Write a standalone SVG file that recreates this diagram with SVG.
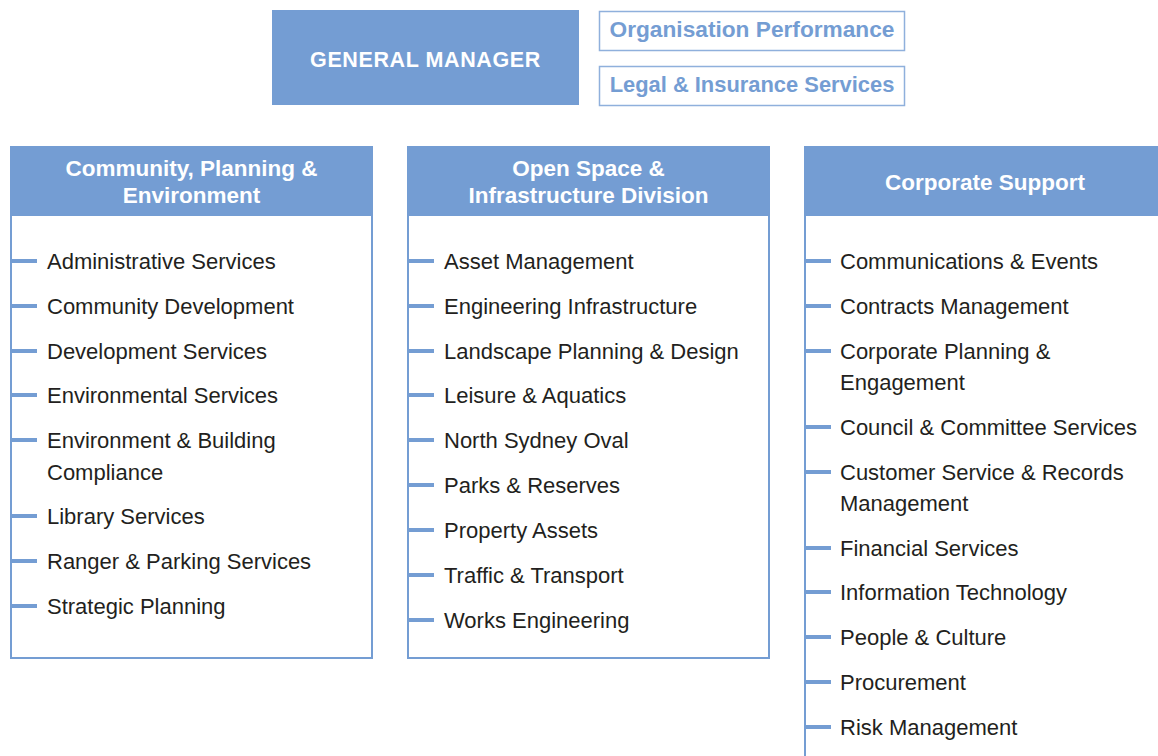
<svg xmlns="http://www.w3.org/2000/svg" width="1158" height="756" viewBox="0 0 1158 756">
<style>
.hd{fill:#749dd3}
.frame{fill:#fff;stroke:#749dd3;stroke-width:2}
.ht{font-family:"Liberation Sans",Arial,sans-serif;font-weight:bold;fill:#fff;font-size:22.5px;text-anchor:middle}
.it{font-family:"Liberation Sans",Arial,sans-serif;fill:#231f20;font-size:22px}
.bt{font-family:"Liberation Sans",Arial,sans-serif;font-weight:bold;fill:#749dd3;font-size:22.7px}
.tick{stroke:#749dd3;stroke-width:4}
</style>
<rect width="1158" height="756" fill="#fff"/>
<g id="gm">
<rect x="272" y="10" width="307" height="95" class="hd"/>
<text x="425.5" y="67" class="ht" style="font-size:21.5px" letter-spacing="0.6">GENERAL MANAGER</text>
</g>
<g id="org-performance">
<rect x="599.5" y="11.5" width="305" height="39" fill="#fff" stroke="#8fb0dc" stroke-width="1.5"/>
<text x="752" y="37" class="bt" text-anchor="middle">Organisation Performance</text>
</g>
<g id="legal">
<rect x="599.5" y="66.5" width="305" height="39" fill="#fff" stroke="#8fb0dc" stroke-width="1.5"/>
<text x="752" y="92" class="bt" text-anchor="middle" style="font-size:21.9px">Legal &amp; Insurance Services</text>
</g>
<g id="cpe">
<rect x="11" y="147" width="361" height="511" class="frame"/>
<rect x="10" y="146" width="363" height="70" class="hd"/>
<text x="191.5" y="176" class="ht">Community, Planning &amp;</text>
<text x="191.5" y="203" class="ht">Environment</text>
<g class="items">
<text x="47" y="269" class="it">Administrative Services</text>
<text x="47" y="314" class="it">Community Development</text>
<text x="47" y="359" class="it">Development Services</text>
<text x="47" y="403" class="it">Environmental Services</text>
<text x="47" y="448" class="it">Environment &amp; Building</text>
<text x="47" y="480" class="it">Compliance</text>
<text x="47" y="524" class="it">Library Services</text>
<text x="47" y="569" class="it">Ranger &amp; Parking Services</text>
<text x="47" y="614" class="it">Strategic Planning</text>
</g>
</g>
<g id="osi">
<rect x="408" y="147" width="361" height="511" class="frame"/>
<rect x="407" y="146" width="363" height="70" class="hd"/>
<text x="588.5" y="176" class="ht">Open Space &amp;</text>
<text x="588.5" y="203" class="ht">Infrastructure Division</text>
<g class="items">
<text x="444" y="269" class="it">Asset Management</text>
<text x="444" y="314" class="it">Engineering Infrastructure</text>
<text x="444" y="359" class="it">Landscape Planning &amp; Design</text>
<text x="444" y="403" class="it">Leisure &amp; Aquatics</text>
<text x="444" y="448" class="it">North Sydney Oval</text>
<text x="444" y="493" class="it">Parks &amp; Reserves</text>
<text x="444" y="538" class="it">Property Assets</text>
<text x="444" y="583" class="it">Traffic &amp; Transport</text>
<text x="444" y="628" class="it">Works Engineering</text>
</g>
</g>
<g id="cs">
<rect x="805" y="147" width="360" height="620" class="frame"/>
<rect x="804" y="146" width="360" height="70" class="hd"/>
<text x="985" y="190" class="ht">Corporate Support</text>
<g class="items">
<text x="840" y="269" class="it">Communications &amp; Events</text>
<text x="840" y="314" class="it">Contracts Management</text>
<text x="840" y="359" class="it">Corporate Planning &amp;</text>
<text x="840" y="390" class="it">Engagement</text>
<text x="840" y="435" class="it">Council &amp; Committee Services</text>
<text x="840" y="480" class="it">Customer Service &amp; Records</text>
<text x="840" y="511" class="it">Management</text>
<text x="840" y="556" class="it">Financial Services</text>
<text x="840" y="600" class="it">Information Technology</text>
<text x="840" y="645" class="it">People &amp; Culture</text>
<text x="840" y="690" class="it">Procurement</text>
<text x="840" y="735" class="it">Risk Management</text>
</g>
</g>
<g id="connectors" class="tick">
<path d="M11 261H37M11 306H37M11 351H37M11 395H37M11 440H37M11 516H37M11 561H37M11 606H37"/>
<path d="M408 261H434M408 306H434M408 351H434M408 395H434M408 440H434M408 485H434M408 530H434M408 575H434M408 620H434"/>
<path d="M805 261H831M805 306H831M805 351H831M805 427H831M805 472H831M805 548H831M805 592H831M805 637H831M805 682H831M805 727H831"/>
</g>
</svg>
